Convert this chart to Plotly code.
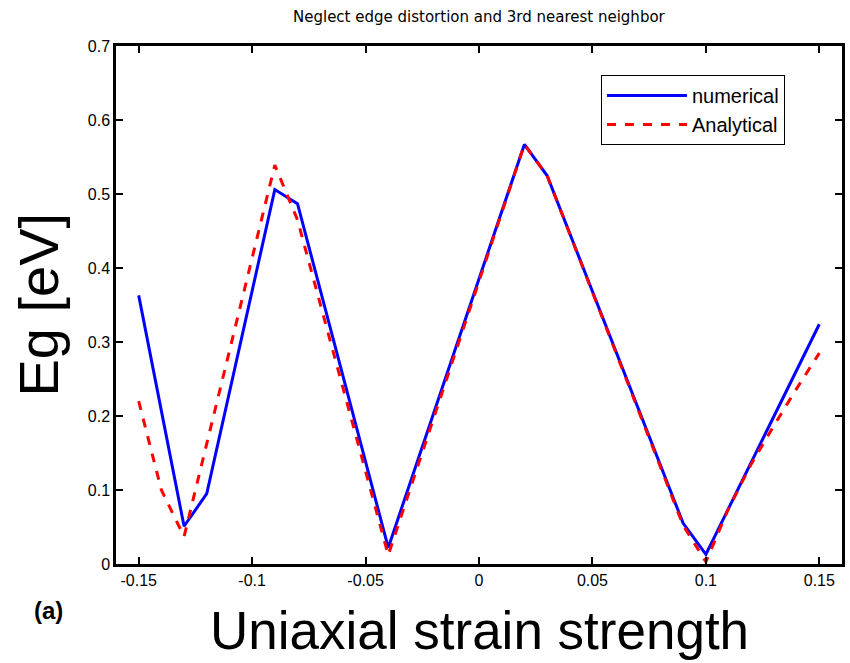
import plotly.graph_objects as go

# Numerical (solid blue)
num_x = [-0.15, -0.13, -0.12, -0.09, -0.08, -0.04, 0.02, 0.03, 0.09, 0.10, 0.15]
num_y = [0.363, 0.051, 0.095, 0.506, 0.487, 0.022, 0.567, 0.525, 0.055, 0.013, 0.324]

# Analytical (dashed red)
ana_x = [-0.15, -0.14, -0.13, -0.09, -0.08, -0.04, 0.02, 0.03, 0.09, 0.10, 0.11, 0.12, 0.13, 0.14, 0.15]
ana_y = [0.220, 0.100, 0.037, 0.539, 0.465, 0.012, 0.567, 0.525, 0.052, 0.003, 0.075, 0.135, 0.187, 0.237, 0.285]

x_ticks = [-0.15, -0.1, -0.05, 0, 0.05, 0.1, 0.15]
x_tick_labels = ["-0.15", "-0.1", "-0.05", "0", "0.05", "0.1", "0.15"]
y_ticks = [0, 0.1, 0.2, 0.3, 0.4, 0.5, 0.6, 0.7]
y_tick_labels = ["0", "0.1", "0.2", "0.3", "0.4", "0.5", "0.6", "0.7"]

FONT = "Liberation Sans, Arial, sans-serif"

fig = go.Figure()
fig.add_trace(go.Scatter(x=num_x, y=num_y, mode="lines", name="numerical",
                         line=dict(color="#0000ff", width=3)))
fig.add_trace(go.Scatter(x=ana_x, y=ana_y, mode="lines", name="Analytical",
                         line=dict(color="#ff0000", width=3, dash="dash")))

axis_common = dict(showline=True, mirror="ticks", linecolor="black", linewidth=2.5,
                   ticks="inside", ticklen=7, tickwidth=2, tickcolor="black",
                   showgrid=False, zeroline=False,
                   tickfont=dict(family=FONT, size=16, color="black"))

fig.update_layout(
    width=850, height=663,
    margin=dict(l=116, r=5, t=46, b=99),
    paper_bgcolor="white", plot_bgcolor="white",
    xaxis=dict(range=[-0.16, 0.16], tickvals=x_ticks, ticktext=x_tick_labels, **axis_common),
    yaxis=dict(range=[0, 0.7], tickvals=y_ticks, ticktext=y_tick_labels, **axis_common),
    showlegend=True,
    legend=dict(x=0.668, y=0.944, xanchor="left", yanchor="top",
                bgcolor="white", bordercolor="black", borderwidth=1,
                font=dict(family=FONT, size=20, color="black"),
                tracegroupgap=0, itemwidth=80),
    annotations=[
        dict(text="Neglect edge distortion and 3rd nearest neighbor", xref="paper", yref="paper",
             x=0.5, y=1.056, xanchor="center", yanchor="middle", showarrow=False,
             font=dict(family="DejaVu Sans", size=15, color="black")),
        dict(text="Uniaxial strain strength", xref="paper", yref="paper",
             x=0.5, y=-0.128, xanchor="center", yanchor="middle", showarrow=False,
             font=dict(family=FONT, size=53, color="black")),
        dict(text="Eg [eV]", xref="paper", yref="paper", textangle=-90,
             x=-0.108, y=0.5, xanchor="center", yanchor="middle", showarrow=False,
             font=dict(family=FONT, size=56, color="black")),
        dict(text="<b>(a)</b>", xref="paper", yref="paper",
             x=-0.093, y=-0.089, xanchor="center", yanchor="middle", showarrow=False,
             font=dict(family=FONT, size=24, color="black")),
    ],
)

fig.write_html("out.html")
